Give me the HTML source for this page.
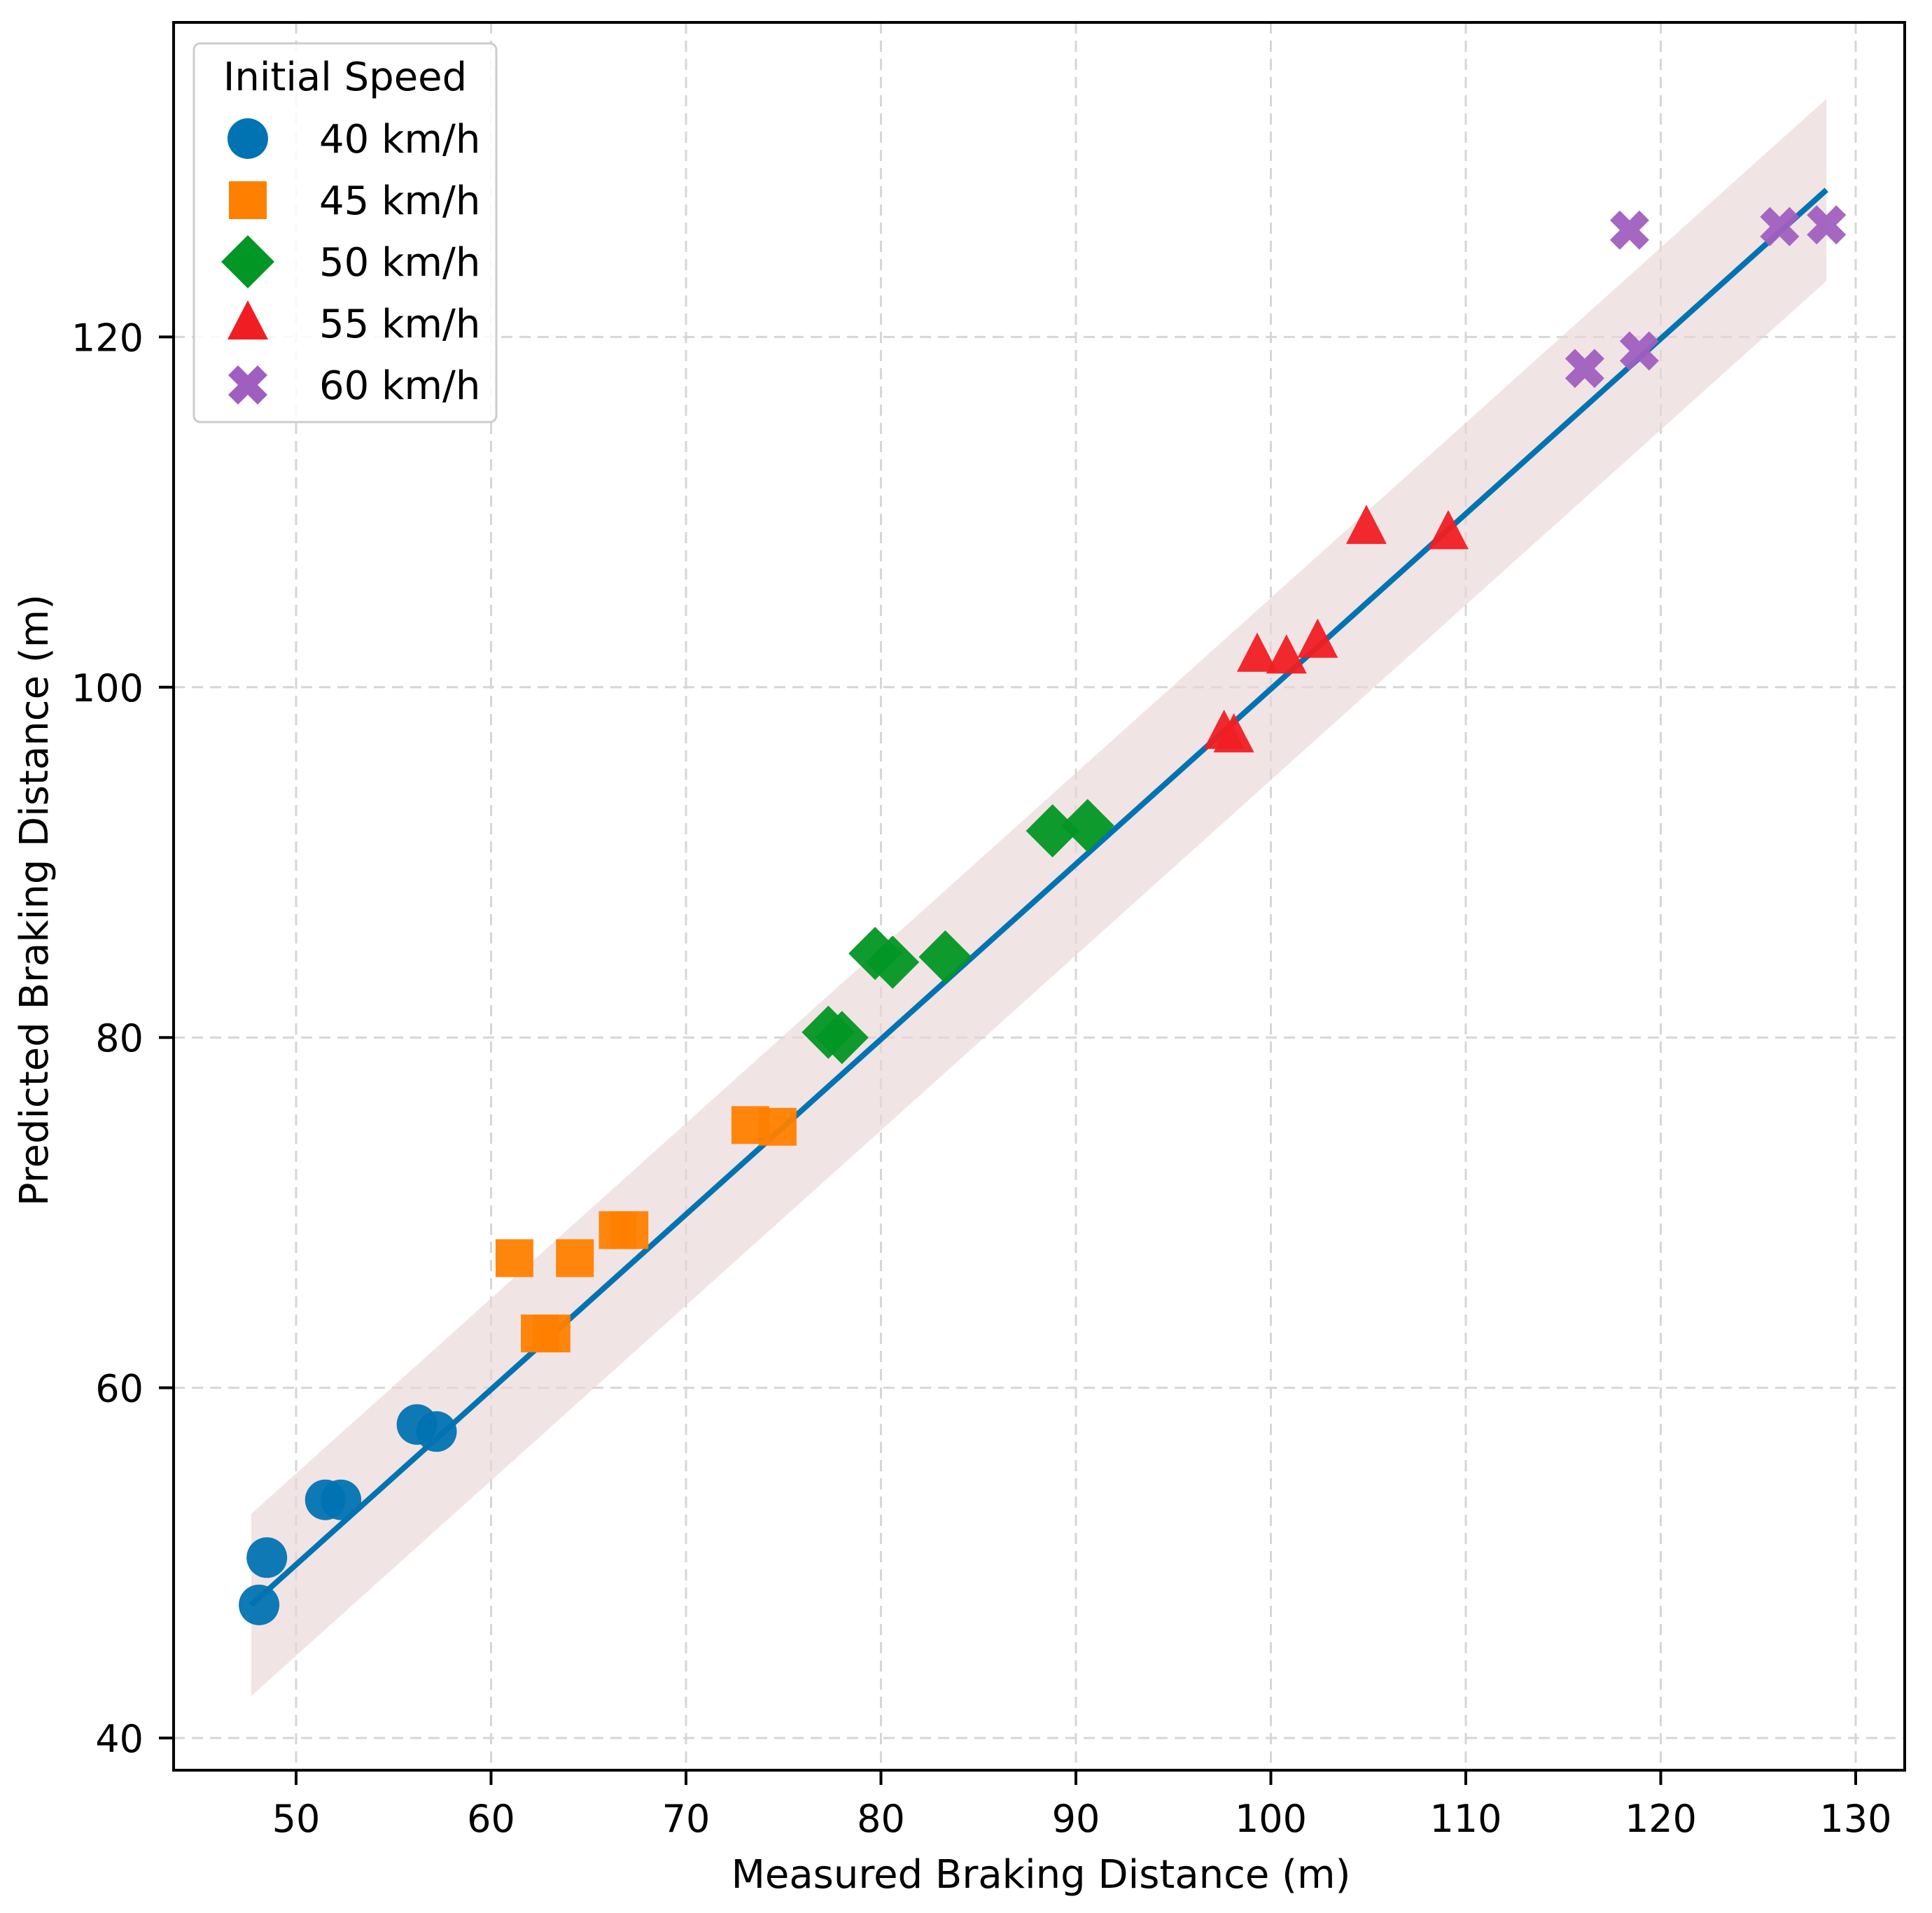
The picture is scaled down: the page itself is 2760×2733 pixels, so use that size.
<!DOCTYPE html>
<html><head><meta charset="utf-8"><style>
html,body{margin:0;padding:0;background:#fff;}
svg{display:block;font-family:"DejaVu Sans","Liberation Sans",sans-serif;}
</style></head><body>
<svg id="chart" width="2760" height="2733" viewBox="0 0 2760 2733" xmlns="http://www.w3.org/2000/svg">
<g id="grid"></g>
<g id="band"></g>
<g id="fit"></g>
<g id="marks"></g>
<rect x="248" y="32" width="2473" height="2497" fill="none" stroke="#000" stroke-width="4"/>
<g id="axes"></g>
<text x="1487" y="2697" font-size="56" text-anchor="middle">Measured Braking Distance (m)</text>
<text x="0" y="0" font-size="56" text-anchor="middle" transform="translate(68,1286) rotate(-90)">Predicted Braking Distance (m)</text>
<g id="legend">
<rect x="277" y="62" width="432" height="541" rx="9" fill="#fff" fill-opacity="0.85" stroke="#cccccc" stroke-width="3"/>
<text x="493" y="129" font-size="56" text-anchor="middle">Initial Speed</text>
</g>
</svg>
<script>
const xTicks=[50,60,70,80,90,100,110,120,130];
const yTicks=[40,60,80,100,120];
const speeds=["40 km/h","45 km/h","50 km/h","55 km/h","60 km/h"];
const colors=["#0173b2","#ff7f00","#029624","#f01e23","#a05fbf"];
const shapes=["circle","square","diamond","triangle","x"];
const s40x=[48.1,48.5,51.5,52.3,56.2,57.2];
const s40y=[47.6,50.3,53.6,53.6,57.9,57.5];
const s45x=[61.2,64.3,62.5,63.1,66.5,67.1,73.3,74.7];
const s45y=[67.4,67.4,63.1,63.1,69.0,69.0,75.0,74.9];
const s50x=[77.3,78.0,79.7,80.6,83.3,88.8,90.6];
const s50y=[80.3,80.0,84.8,84.3,84.6,91.8,92.1];
const s55x=[97.6,98.1,99.3,100.8,102.4,104.9,109.1];
const s55y=[97.4,97.2,101.8,101.7,102.6,109.1,108.8];
const s60x=[116.1,118.4,118.9,126.1,128.5];
const s60y=[118.2,126.1,119.2,126.3,126.4];
const fitX=[47.7,128.5];
const fitY=[47.6,128.4];
const bandHalf=5.2;

const NS="http://www.w3.org/2000/svg";
const X=v=>423+(v-50)*27.85;
const Y=v=>2483-(v-40)*25.02;
function mk(tag,attrs,parent){const e=document.createElementNS(NS,tag);for(const k in attrs)e.setAttribute(k,attrs[k]);parent.appendChild(e);return e;}
const grid=document.getElementById('grid'),axes=document.getElementById('axes');
xTicks.forEach(t=>{
  const g=mk('line',{x1:X(t),x2:X(t),y1:32,y2:2529,stroke:'#d6d6d6','stroke-width':3,'stroke-dasharray':'16,10'},grid);
  
  
  const tk=mk('line',{x1:X(t),x2:X(t),y1:2529,y2:2550,stroke:'#000','stroke-width':4},axes);
  
  
  const tx=mk('text',{x:X(t),y:2617,'font-size':54,'text-anchor':'middle'},axes);
  tx.textContent=t;
  
  
});
yTicks.forEach(t=>{
  const g=mk('line',{x1:248,x2:2721,y1:Y(t),y2:Y(t),stroke:'#d6d6d6','stroke-width':3,'stroke-dasharray':'16,10'},grid);
  
  
  const tk=mk('line',{x1:227,x2:248,y1:Y(t),y2:Y(t),stroke:'#000','stroke-width':4},axes);
  
  
  const tx=mk('text',{x:205,y:Y(t)+20,'font-size':54,'text-anchor':'end'},axes);
  tx.textContent=t;
  
  
});
const bandEl=mk('polygon',{points:[[X(fitX[0]),Y(fitY[0]+bandHalf)],[X(fitX[1]),Y(fitY[1]+bandHalf)],[X(fitX[1]),Y(fitY[1]-bandHalf)],[X(fitX[0]),Y(fitY[0]-bandHalf)]].map(p=>p.join(',')).join(' '),fill:'#e9d6d6','fill-opacity':0.65},document.getElementById('band'));


const fl=mk('line',{x1:X(fitX[0]),y1:Y(fitY[0]),x2:X(fitX[1]),y2:Y(fitY[1]),stroke:'#0173b2','stroke-width':8},document.getElementById('fit'));



function marker(shape,cx,cy,color,parent,k){
  k=k||1;
  let e;
  if(shape==='circle') e=mk('circle',{cx:cx,cy:cy,r:29*k,fill:color},parent);
  else if(shape==='square') e=mk('rect',{x:cx-27*k,y:cy-27*k,width:54*k,height:54*k,fill:color},parent);
  else if(shape==='diamond') e=mk('polygon',{points:`${cx},${cy-38*k} ${cx+38*k},${cy} ${cx},${cy+38*k} ${cx-38*k},${cy}`,fill:color},parent);
  else if(shape==='triangle') e=mk('polygon',{points:`${cx},${cy-33*k} ${cx+29*k},${cy+23*k} ${cx-29*k},${cy+23*k}`,fill:color},parent);
  else { const a=14*k,b=28*k; e=mk('polygon',{points:`${cx-b+a},${cy-b} ${cx},${cy-a} ${cx+b-a},${cy-b} ${cx+b},${cy-b+a} ${cx+a},${cy} ${cx+b},${cy+b-a} ${cx+b-a},${cy+b} ${cx},${cy+a} ${cx-b+a},${cy+b} ${cx-b},${cy+b-a} ${cx-a},${cy} ${cx-b},${cy-b+a}`,fill:color},parent);}
  return e;
}
const series=[[s40x,s40y],[s45x,s45y],[s50x,s50y],[s55x,s55y],[s60x,s60y]];
const marks=document.getElementById('marks');
series.forEach((s,i)=>{
  s[0].forEach((xv,j)=>{
    const m=marker(shapes[i],X(xv),Y(s[1][j]),colors[i],marks);
    m.setAttribute('fill-opacity','0.95');
    
    
  });
});
const leg=document.getElementById('legend');
speeds.forEach((sp,i)=>{
  const cy=198+i*88;
  const m=marker(shapes[i],354,cy,colors[i],leg,1.0);
  
  
  const t=mk('text',{x:456,y:cy+20,'font-size':56},leg);
  t.textContent=sp;
  
  
});
</script>
</body></html>
